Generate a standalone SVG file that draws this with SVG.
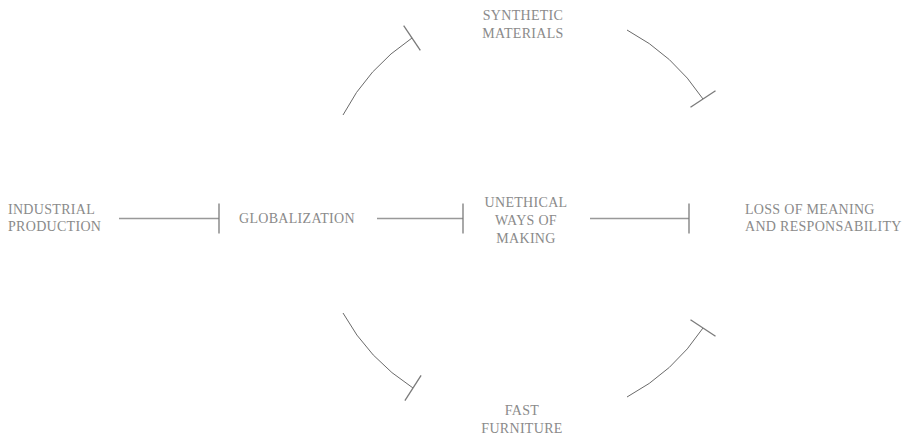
<svg xmlns="http://www.w3.org/2000/svg" width="908" height="438" viewBox="0 0 908 438">
<style>
.t text{font-size:14px;fill:#8a8a8a;letter-spacing:0.3px}
.c{text-anchor:middle}
.s{fill:none;stroke:#999;stroke-width:1.3}
.a{fill:none;stroke:#6a6a6a;stroke-width:1}
</style>
<defs>
<marker id="tee" markerUnits="userSpaceOnUse" orient="auto" markerWidth="4" markerHeight="32" refX="2" refY="16" viewBox="0 0 4 32" overflow="visible">
<path d="M2,1 L2,31" stroke="#7a7a7a" stroke-width="1.3" fill="none"/>
</marker>
</defs>
<rect width="908" height="438" fill="#fff"/>
<g id="connectors">
<path class="s" d="M119,218.5 L219,218.5" marker-end="url(#tee)"/>
<path class="s" d="M377,218.5 L463,218.5" marker-end="url(#tee)"/>
<path class="s" d="M590,218.5 L689,218.5" marker-end="url(#tee)"/>
<path class="a" d="M343,115 A208,208 0 0 1 412,38" marker-end="url(#tee)"/>
<path class="a" d="M627,30 A208,208 0 0 1 703,99" marker-end="url(#tee)"/>
<path class="a" d="M343,313 A208,208 0 0 0 413,388" marker-end="url(#tee)"/>
<path class="a" d="M627,397 A208,208 0 0 0 703,328" marker-end="url(#tee)"/>
</g>
<g class="t" font-family="'Liberation Serif', 'Times New Roman', 'DejaVu Serif', serif">
<g id="industrial-production"><text x="8" y="214">INDUSTRIAL</text><text x="8" y="231">PRODUCTION</text></g>
<g id="globalization"><text x="239" y="223">GLOBALIZATION</text></g>
<g id="unethical-ways"><text class="c" x="526" y="207">UNETHICAL</text><text class="c" x="526" y="225">WAYS OF</text><text class="c" x="526" y="243">MAKING</text></g>
<g id="loss-of-meaning"><text x="745" y="214">LOSS OF MEANING</text><text x="745" y="231">AND RESPONSABILITY</text></g>
<g id="synthetic-materials"><text class="c" x="523" y="20">SYNTHETIC</text><text class="c" x="523" y="38">MATERIALS</text></g>
<g id="fast-furniture"><text class="c" x="522" y="415">FAST</text><text class="c" x="522" y="433">FURNITURE</text></g>
</g>
</svg>
